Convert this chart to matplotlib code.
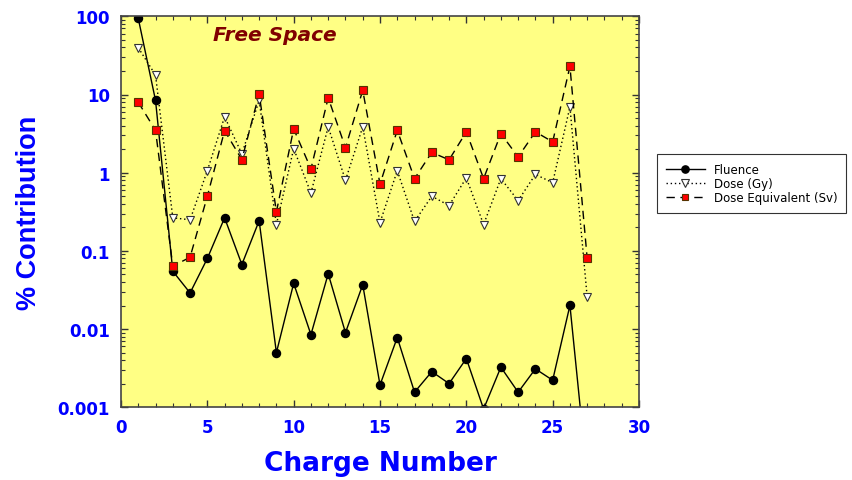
import matplotlib
matplotlib.use("Agg")
import matplotlib.pyplot as plt
from matplotlib.ticker import MultipleLocator, LogLocator, NullFormatter, FixedLocator, FixedFormatter

plt.rcParams['font.family'] = ['DejaVu Sans']

charge = list(range(1, 28))
fluence = [94, 8.4, 0.055, 0.029, 0.080, 0.265, 0.067, 0.243, 0.0050, 0.0385,
           0.0085, 0.051, 0.0090, 0.037, 0.00193, 0.0078, 0.00156, 0.00286, 0.00201, 0.0042,
           0.00095, 0.00326, 0.00156, 0.0031, 0.00222, 0.0201, 0.00013]
dose_gy = [39.7, 17.7, 0.265, 0.25, 1.06, 5.2, 1.74, 8.4, 0.217, 2.03,
           0.55, 3.86, 0.80, 3.86, 0.23, 1.06, 0.238, 0.50, 0.38, 0.86,
           0.217, 0.84, 0.44, 0.95, 0.745, 6.95, 0.0255]
dose_eq = [7.96, 3.48, 0.0637, 0.083, 0.50, 3.45, 1.47, 10.2, 0.316, 3.63,
           1.12, 9.08, 2.09, 11.3, 0.716, 3.48, 0.84, 1.82, 1.46, 3.33,
           0.84, 3.16, 1.59, 3.33, 2.48, 22.9, 0.080]

series_labels = ['Fluence', 'Dose (Gy)', 'Dose Equivalent (Sv)']
y_ticks = [0.001, 0.01, 0.1, 1, 10, 100]
y_tick_labels = ['0.001', '0.01', '0.1', '1', '10', '100']

fig = plt.figure(figsize=(8.52, 4.81), dpi=100)
ax = fig.add_axes([121/852, 1-408.3/481, (639-121)/852, (408.3-17.3)/481])
ax.set_facecolor('#FFFF84')

ax.plot(charge, fluence, color='black', lw=1.0, ls='-', marker='o', ms=5.8,
        mfc='black', mec='black', label=series_labels[0])
ax.plot(charge, dose_gy, color='black', lw=1.0, ls=(0, (1, 2)), marker='v', ms=6.2,
        mfc='white', mec='#333333', mew=0.8, label=series_labels[1])
ax.plot(charge, dose_eq, color='black', lw=1.0, ls=(0, (6, 4)), marker='s', ms=5.3,
        mfc='#FF0000', mec='#553300', mew=0.8, label=series_labels[2])

ax.set_yscale('log')
ax.set_xlim(0, 30)
ax.set_ylim(0.001, 100)
ax.xaxis.set_major_locator(MultipleLocator(5))
ax.xaxis.set_minor_locator(MultipleLocator(1))
ax.yaxis.set_major_locator(FixedLocator(y_ticks))
ax.yaxis.set_major_formatter(FixedFormatter(y_tick_labels))
ax.yaxis.set_minor_locator(LogLocator(base=10, subs=range(2, 10)))
ax.yaxis.set_minor_formatter(NullFormatter())

ax.tick_params(which='both', direction='in', top=True, right=True, colors='#333333',
               labelcolor='#0000FF')
ax.tick_params(which='major', length=5, width=1)
ax.tick_params(which='minor', length=3, width=0.8)
for lab in ax.get_xticklabels() + ax.get_yticklabels():
    lab.set_fontweight('bold')
    lab.set_fontsize(12)
ax.tick_params(axis='x', pad=8)
ax.tick_params(axis='y', pad=8)

for sp in ax.spines.values():
    sp.set_color('#444444')
    sp.set_linewidth(1.2)

ax.set_xlabel('Charge Number', fontsize=19, fontweight='bold', color='#0000FF', labelpad=10)
ax.set_ylabel('% Contribution', fontsize=19.5, fontweight='bold', color='#0000FF', labelpad=11,
              family=['Liberation Sans', 'DejaVu Sans'])

ax.text(91.7/518, (408.3-41)/391, 'Free Space', transform=ax.transAxes, fontsize=14.5,
        fontweight='bold', fontstyle='italic', color='#800000', va='baseline', ha='left')

leg = fig.legend(loc='upper left', bbox_to_anchor=(656.7/852, 1-155/481), fontsize=8.5,
                 frameon=True, fancybox=False, edgecolor='black', handlelength=3.3,
                 borderpad=0.75, labelspacing=0.1, handletextpad=0.8, borderaxespad=0,
                 markerscale=0.9)
leg.get_frame().set_linewidth(0.8)

fig.savefig('out.png', dpi=100)
